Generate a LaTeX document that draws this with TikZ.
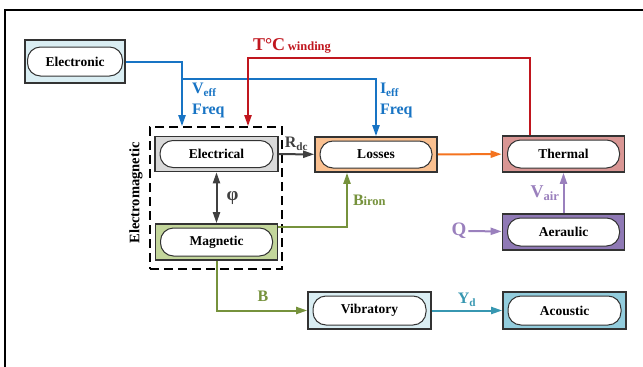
\documentclass[tikz,border=0pt]{standalone}
\usepackage{fontspec}
\setmainfont{Liberation Serif}
\usetikzlibrary{arrows.meta}

\definecolor{fillElectronic}{HTML}{DAEEF3}
\definecolor{fillElectrical}{HTML}{D9D9D9}
\definecolor{fillMagnetic}{HTML}{C3D69B}
\definecolor{fillLosses}{HTML}{FAC090}
\definecolor{fillThermal}{HTML}{D99694}
\definecolor{fillAeraulic}{HTML}{8F79B5}
\definecolor{fillAcoustic}{HTML}{93CDDD}
\definecolor{cBlue}{HTML}{1874C4}
\definecolor{cRed}{HTML}{C0161E}
\definecolor{cGray}{HTML}{404040}
\definecolor{cOlive}{HTML}{76923C}
\definecolor{cOrange}{HTML}{F4731F}
\definecolor{cTeal}{HTML}{3797B1}
\definecolor{cPurple}{HTML}{9A80BD}

\begin{document}
\begin{tikzpicture}[x=1pt,y=-1pt,>={Triangle[length=11pt,width=7pt]},line width=2pt,
  inset/.style={path picture={\draw[fill=white,rounded corners=13pt,line width=1pt]
      ([shift={(5pt,-4pt)}]path picture bounding box.north west) rectangle
      ([shift={(-5pt,4pt)}]path picture bounding box.south east);}},
  wide inset/.style={path picture={\draw[fill=white,rounded corners=13pt,line width=1pt]
      ([shift={(2.5pt,-7pt)}]path picture bounding box.north west) rectangle
      ([shift={(-2.5pt,7pt)}]path picture bounding box.south east);}},
  block/.style={draw=black!80,line width=1.6pt,minimum width=122pt,minimum height=36pt,
    font=\fontsize{13.5}{15}\selectfont\bfseries,inset},
  lbl/.style={inner sep=1pt,font=\fontsize{16}{21}\selectfont\bfseries}]

  \useasboundingbox (0,0) rectangle (643,367);
  \draw[line width=2pt] (643,10) -- (5,10) -- (5,367);

  % electromagnetic group
  \node[draw,line width=1.6pt,dash pattern=on 9pt off 5pt,minimum width=132pt,minimum height=142pt] (em) at (216,198) {};
  \node[rotate=90,font=\fontsize{14.5}{16}\selectfont\bfseries] (emlabel) at (136,193) {Electromagnetic};

  \node[block,fill=fillElectronic,minimum width=100pt,minimum height=43pt,wide inset] (electronic) at (75,61.5) {Electronic};
  \node[block,fill=fillElectrical,minimum width=123pt,minimum height=35pt] (electrical) at (216.5,154) {Electrical};
  \node[block,fill=fillMagnetic] (magnetic) at (216.5,242) {Magnetic};
  \node[block,fill=fillLosses,minimum height=35pt] (losses) at (376,154.5) {Losses};
  \node[block,fill=fillThermal] (thermal) at (563.5,154) {Thermal};
  \node[block,fill=fillAeraulic] (aeraulic) at (563.5,232) {Aeraulic};
  \node[block,fill=fillElectronic,minimum width=123pt,minimum height=37pt] (vibratory) at (369.5,310.5) {Vibratory};
  \node[block,fill=fillAcoustic,minimum width=123pt,minimum height=37pt] (acoustic) at (564.5,310.5) {Acoustic};

  \coordinate (vtap) at (182,79);
  \coordinate (tl) at (248,58);
  \coordinate (tr) at (530,58);
  \coordinate (bi) at (347,228);

  % electronic supply
  \draw[cBlue,->] (electronic.east) -| (vtap |- em.north);
  \draw[cBlue,->] (vtap) -| (losses.north);
  \node[lbl,text=cBlue,anchor=north west,align=left] (veff) at (190,81) {V\textsubscript{eff}\\Freq};
  \node[lbl,text=cBlue,anchor=north west,align=left] (ieff) at (378,81) {I\textsubscript{eff}\\Freq};

  % winding temperature
  \draw[cRed,->] (tr |- thermal.north) |- (tl) -- (tl |- em.north);
  \node[lbl,text=cRed,anchor=south west] (tcw) at (251,55) {{\fontsize{18}{20}\selectfont T°C}\,{\fontsize{12.5}{14}\selectfont winding}};

  \draw[cGray,->] (electrical) -- (losses) node[lbl,midway,above=2pt] {R\textsubscript{dc}};
  \draw[cGray,<->] (electrical) -- (magnetic) node[lbl,midway,right=8pt,font=\fontsize{19}{21}\selectfont\bfseries] {φ};

  \draw[cOlive,->] ([yshift=-4pt]magnetic.north east) -| (bi |- losses.south);
  \node[lbl,text=cOlive,anchor=west] (biron) at (351,200) {B{\fontsize{12.5}{14}\selectfont iron}};
  \draw[cOlive,->] (magnetic.south) |- (vibratory.west);
  \node[lbl,text=cOlive] (b) at (263,296) {B};

  \draw[cTeal,->] (vibratory) -- (acoustic) node[lbl,midway,above=2pt] {Y\textsubscript{d}};
  \draw[cOrange,->] (losses) -- (thermal);

  \draw[cPurple,->] (aeraulic) -- (thermal) node[lbl,midway,left=2pt,font=\fontsize{18}{20}\selectfont\bfseries] {V\textsubscript{air}};
  \node[lbl,text=cPurple,font=\fontsize{19}{21}\selectfont\bfseries] (q) at (459,231) {Q};
  \draw[cPurple,->] (q) -- (aeraulic);
\end{tikzpicture}
\end{document}
